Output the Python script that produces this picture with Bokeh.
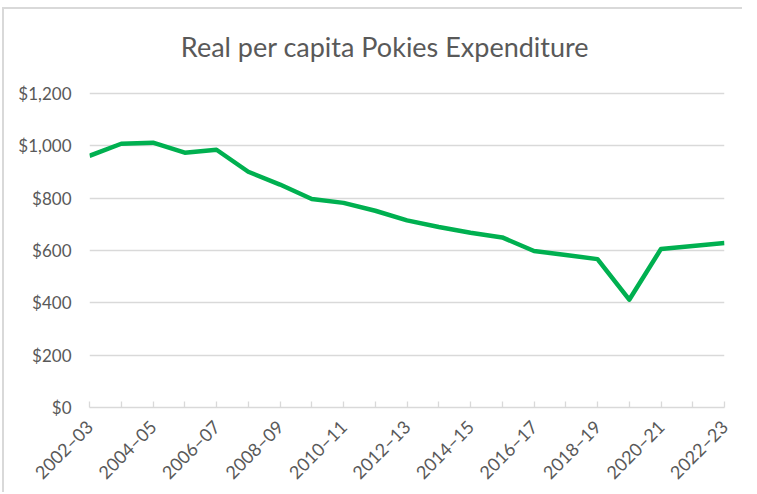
import math
from bokeh.plotting import figure
from bokeh.models import Range1d, FixedTicker, NumeralTickFormatter, Label
from bokeh.embed import file_html
from bokeh.resources import INLINE

years = ["2002–03", "2003–04", "2004–05", "2005–06", "2006–07", "2007–08", "2008–09",
         "2009–10", "2010–11", "2011–12", "2012–13", "2013–14", "2014–15", "2015–16",
         "2016–17", "2017–18", "2018–19", "2019–20", "2020–21", "2021–22", "2022–23"]
spend = [962, 1008, 1012, 974, 985, 901, 852, 797, 782, 752, 715, 690, 668, 650,
         598, 583, 567, 412, 606, 617, 629]
y_ticks = [0, 200, 400, 600, 800, 1000, 1200]

FONT = "Lato"
GREY = "#595959"
LIGHT = "#d9d9d9"

xs = list(range(len(years)))

# layout (pixels inside the canvas): frame top, top gridline, frame bottom
FRAME_TOP, GRID_TOP, FRAME_BOTTOM = 10, 84, 398
y_max = y_ticks[-1]
y_end = y_max * (FRAME_BOTTOM - FRAME_TOP) / (FRAME_BOTTOM - GRID_TOP)

p = figure(width=740, height=485, output_backend="svg", toolbar_location=None,
           x_range=Range1d(0, len(years) - 1), y_range=Range1d(0, y_end),
           min_border_left=85, min_border_right=20, min_border_top=FRAME_TOP,
           min_border_bottom=485 - FRAME_BOTTOM)
p.styles = {"border-top": "2px solid #d9d9d9", "border-left": "2px solid #d9d9d9",
            "margin-top": "7px", "margin-left": "2px"}
p.outline_line_color = None
p.background_fill_color = "white"
p.border_fill_color = "white"

p.line(xs, spend, line_color="#00B050", line_width=4.5, line_join="round")

title = Label(x=(len(years) - 1) / 2, y=y_max, x_offset=-22, y_offset=47,
              text="Real per capita Pokies Expenditure",
              text_font=FONT, text_font_size="27px", text_color=GREY,
              text_align="center", text_baseline="middle")
p.add_layout(title)

# x axis
xa = p.xaxis[0]
xa.ticker = FixedTicker(ticks=xs)
xa.major_label_overrides = {i: (years[i] if i % 2 == 0 else "") for i in xs}
xa.major_label_orientation = math.pi / 4
xa.axis_line_color = LIGHT
xa.axis_line_width = 1.5
xa.major_tick_line_color = LIGHT
xa.major_tick_line_width = 1.3
xa.major_tick_in = 6
xa.major_tick_out = 0
xa.minor_tick_line_color = None
xa.major_label_text_font = FONT
xa.major_label_text_font_size = "18px"
xa.major_label_text_color = GREY
xa.major_label_standoff = 16

# y axis
ya = p.yaxis[0]
ya.ticker = FixedTicker(ticks=y_ticks)
ya.formatter = NumeralTickFormatter(format="$0,0")
ya.axis_line_color = None
ya.major_tick_line_color = None
ya.minor_tick_line_color = None
ya.major_tick_in = 0
ya.major_tick_out = 0
ya.major_label_text_font = FONT
ya.major_label_text_font_size = "17px"
ya.major_label_text_color = GREY
ya.major_label_standoff = 18

p.xgrid.grid_line_color = None
p.ygrid.grid_line_color = LIGHT
p.ygrid.grid_line_width = 1.3

open("out.html", "w").write(file_html(p, INLINE))
